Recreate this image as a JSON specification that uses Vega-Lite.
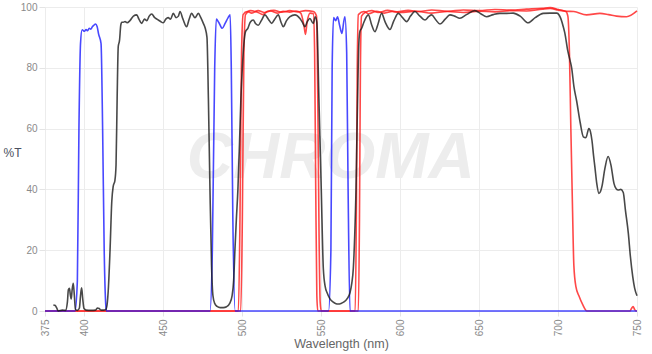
{
"$schema": "https://vega.github.io/schema/vega-lite/v6.json",
"width": 592, "height": 304,
"autosize": "none",
"padding": {"left": 45, "top": 7, "right": 15, "bottom": 43},
"config": {"view": {"stroke": null}, "font": "Liberation Sans",
  "axis": {"labelFont": "Liberation Sans", "titleFont": "Liberation Sans", "labelColor": "#8a8a8a", "labelFontSize": 10, "titleColor": "#666666", "titleFontWeight": "normal", "gridColor": "#ececec", "tickColor": "#e4e4e4", "domain": false}},
"datasets": {
"wm": [{"w": 556, "t": 50, "txt": "CHROMA"}],
"curves": [
{"s":"red1","w":375,"t":0},{"s":"red1","w":497.5,"t":0},{"s":"red1","w":498.5,"t":30},{"s":"red1","w":499.5,"t":85},{"s":"red1","w":500.5,"t":97.5},{"s":"red1","w":503,"t":98.5},{"s":"red1","w":506,"t":98},{"s":"red1","w":510,"t":98.8},{"s":"red1","w":514,"t":98.2},{"s":"red1","w":518,"t":98.7},{"s":"red1","w":522,"t":98},{"s":"red1","w":526,"t":98.6},{"s":"red1","w":530,"t":98.3},{"s":"red1","w":534,"t":98.7},{"s":"red1","w":537,"t":98},{"s":"red1","w":539,"t":94},{"s":"red1","w":540,"t":91},{"s":"red1","w":541,"t":95},{"s":"red1","w":543,"t":98},{"s":"red1","w":545,"t":97.8},{"s":"red1","w":545.8,"t":85},{"s":"red1","w":546.5,"t":40},{"s":"red1","w":547.2,"t":5},{"s":"red1","w":547.8,"t":0},{"s":"red1","w":571.5,"t":0},{"s":"red1","w":572.2,"t":30},{"s":"red1","w":572.8,"t":80},{"s":"red1","w":573.5,"t":97.5},{"s":"red1","w":577,"t":98.5},{"s":"red1","w":580,"t":97.8},{"s":"red1","w":585,"t":98.6},{"s":"red1","w":590,"t":98},{"s":"red1","w":595,"t":98.5},{"s":"red1","w":600,"t":98.2},{"s":"red1","w":610,"t":98.6},{"s":"red1","w":620,"t":98},{"s":"red1","w":630,"t":98.5},{"s":"red1","w":640,"t":98.2},{"s":"red1","w":650,"t":98.6},{"s":"red1","w":660,"t":98.4},{"s":"red1","w":670,"t":98.8},{"s":"red1","w":680,"t":98.7},{"s":"red1","w":690,"t":99.3},{"s":"red1","w":695,"t":99.5},{"s":"red1","w":700,"t":99},{"s":"red1","w":705,"t":98.6},{"s":"red1","w":710,"t":98.5},{"s":"red1","w":718,"t":97.4},{"s":"red1","w":726.5,"t":97.9},{"s":"red1","w":732,"t":97.5},{"s":"red1","w":737,"t":97},{"s":"red1","w":743.4,"t":96.8},{"s":"red1","w":750,"t":98.7},
{"s":"red2","w":375,"t":0},{"s":"red2","w":499,"t":0},{"s":"red2","w":500,"t":30},{"s":"red2","w":501,"t":85},{"s":"red2","w":502,"t":97.5},{"s":"red2","w":505,"t":98.8},{"s":"red2","w":510,"t":98.2},{"s":"red2","w":513,"t":97.5},{"s":"red2","w":516,"t":98.6},{"s":"red2","w":520,"t":98.9},{"s":"red2","w":525,"t":98.3},{"s":"red2","w":530,"t":98.8},{"s":"red2","w":535,"t":98.4},{"s":"red2","w":540,"t":98.8},{"s":"red2","w":545,"t":98.5},{"s":"red2","w":547,"t":97},{"s":"red2","w":547.8,"t":70},{"s":"red2","w":548.6,"t":25},{"s":"red2","w":549.3,"t":3},{"s":"red2","w":550,"t":0},{"s":"red2","w":573.5,"t":0},{"s":"red2","w":574.2,"t":30},{"s":"red2","w":574.8,"t":80},{"s":"red2","w":575.5,"t":97},{"s":"red2","w":578,"t":98.3},{"s":"red2","w":582,"t":98.8},{"s":"red2","w":586,"t":98.2},{"s":"red2","w":592,"t":98.9},{"s":"red2","w":598,"t":98.4},{"s":"red2","w":605,"t":98.9},{"s":"red2","w":612,"t":98.5},{"s":"red2","w":620,"t":99},{"s":"red2","w":630,"t":98.6},{"s":"red2","w":640,"t":99},{"s":"red2","w":650,"t":98.8},{"s":"red2","w":660,"t":99.2},{"s":"red2","w":670,"t":99},{"s":"red2","w":680,"t":99.3},{"s":"red2","w":690,"t":99.6},{"s":"red2","w":695,"t":99.8},{"s":"red2","w":700,"t":99.2},{"s":"red2","w":705,"t":98.5},{"s":"red2","w":706.2,"t":97},{"s":"red2","w":707.2,"t":85},{"s":"red2","w":708.1,"t":60},{"s":"red2","w":709.1,"t":35},{"s":"red2","w":710,"t":15},{"s":"red2","w":711.3,"t":8},{"s":"red2","w":713.2,"t":5},{"s":"red2","w":715.7,"t":2},{"s":"red2","w":718.3,"t":0},{"s":"red2","w":745.5,"t":0},{"s":"red2","w":746.5,"t":0.8},{"s":"red2","w":747.5,"t":1.5},{"s":"red2","w":748.5,"t":0.5},{"s":"red2","w":749.3,"t":0},{"s":"red2","w":750,"t":0},
{"s":"blue","w":375,"t":0},{"s":"blue","w":394,"t":0},{"s":"blue","w":395.5,"t":10},{"s":"blue","w":396.5,"t":60},{"s":"blue","w":397.5,"t":88},{"s":"blue","w":398.5,"t":92.5},{"s":"blue","w":400,"t":92},{"s":"blue","w":401,"t":92.6},{"s":"blue","w":402,"t":92.2},{"s":"blue","w":403,"t":93},{"s":"blue","w":404,"t":92.7},{"s":"blue","w":405,"t":93.5},{"s":"blue","w":406,"t":94},{"s":"blue","w":407,"t":94.4},{"s":"blue","w":408,"t":93.6},{"s":"blue","w":409,"t":91},{"s":"blue","w":410.5,"t":88},{"s":"blue","w":411.5,"t":60},{"s":"blue","w":412.5,"t":20},{"s":"blue","w":413.5,"t":2},{"s":"blue","w":414,"t":0},{"s":"blue","w":479.5,"t":0},{"s":"blue","w":481,"t":20},{"s":"blue","w":482.5,"t":80},{"s":"blue","w":483.5,"t":96},{"s":"blue","w":485,"t":95},{"s":"blue","w":487.3,"t":93},{"s":"blue","w":489,"t":94.5},{"s":"blue","w":491,"t":96.5},{"s":"blue","w":492.3,"t":97.4},{"s":"blue","w":493,"t":80},{"s":"blue","w":494,"t":30},{"s":"blue","w":495.5,"t":0},{"s":"blue","w":554.6,"t":0},{"s":"blue","w":556.1,"t":20},{"s":"blue","w":556.9,"t":80},{"s":"blue","w":557.8,"t":96.5},{"s":"blue","w":559.1,"t":95.5},{"s":"blue","w":560.3,"t":96.8},{"s":"blue","w":561.6,"t":94},{"s":"blue","w":563.1,"t":91.3},{"s":"blue","w":564.2,"t":95},{"s":"blue","w":565,"t":96.8},{"s":"blue","w":566.1,"t":85},{"s":"blue","w":567,"t":40},{"s":"blue","w":568.2,"t":0},{"s":"blue","w":750,"t":0},
{"s":"black","w":380.3,"t":2},{"s":"black","w":381.5,"t":1.8},{"s":"black","w":382.4,"t":1},{"s":"black","w":383.4,"t":0},{"s":"black","w":386,"t":0.3},{"s":"black","w":388,"t":0.2},{"s":"black","w":389.2,"t":3},{"s":"black","w":389.8,"t":7},{"s":"black","w":390.5,"t":7.5},{"s":"black","w":391,"t":5.5},{"s":"black","w":391.6,"t":4},{"s":"black","w":392.2,"t":7},{"s":"black","w":392.9,"t":9.1},{"s":"black","w":393.6,"t":5},{"s":"black","w":394.3,"t":0.5},{"s":"black","w":395.5,"t":0.2},{"s":"black","w":396.8,"t":1},{"s":"black","w":397.5,"t":5},{"s":"black","w":398.2,"t":7.6},{"s":"black","w":398.9,"t":4},{"s":"black","w":399.7,"t":0.8},{"s":"black","w":401,"t":0.3},{"s":"black","w":404,"t":0.2},{"s":"black","w":407,"t":0.3},{"s":"black","w":408.3,"t":1},{"s":"black","w":409.3,"t":0.8},{"s":"black","w":410.5,"t":0.3},{"s":"black","w":412,"t":0.3},{"s":"black","w":413.5,"t":0.5},{"s":"black","w":414.3,"t":2},{"s":"black","w":415.2,"t":8},{"s":"black","w":416.2,"t":20},{"s":"black","w":417.3,"t":36},{"s":"black","w":418.2,"t":41},{"s":"black","w":419.3,"t":43},{"s":"black","w":420,"t":48},{"s":"black","w":420.7,"t":70},{"s":"black","w":421.4,"t":87},{"s":"black","w":422.2,"t":89},{"s":"black","w":423,"t":94},{"s":"black","w":423.6,"t":95},{"s":"black","w":424.6,"t":95},{"s":"black","w":425.7,"t":95.2},{"s":"black","w":427,"t":94.8},{"s":"black","w":428.8,"t":95.5},{"s":"black","w":431,"t":97},{"s":"black","w":433.1,"t":97.4},{"s":"black","w":434.5,"t":96},{"s":"black","w":436.2,"t":94.6},{"s":"black","w":438,"t":96},{"s":"black","w":439.5,"t":95.5},{"s":"black","w":441,"t":97},{"s":"black","w":442.6,"t":97.7},{"s":"black","w":444.5,"t":96.5},{"s":"black","w":445.9,"t":96},{"s":"black","w":448,"t":95.3},{"s":"black","w":449.9,"t":94.8},{"s":"black","w":451.5,"t":96},{"s":"black","w":453,"t":96.5},{"s":"black","w":454.5,"t":96},{"s":"black","w":456.3,"t":97.9},{"s":"black","w":458,"t":96.5},{"s":"black","w":459.5,"t":97},{"s":"black","w":460.5,"t":98.5},{"s":"black","w":462.4,"t":96},{"s":"black","w":464.7,"t":93.5},{"s":"black","w":466.3,"t":96},{"s":"black","w":467.9,"t":97.9},{"s":"black","w":470,"t":96.5},{"s":"black","w":472.1,"t":97.9},{"s":"black","w":473.7,"t":96.5},{"s":"black","w":475.3,"t":94.6},{"s":"black","w":476.5,"t":93},{"s":"black","w":477.6,"t":90},{"s":"black","w":478.5,"t":70},{"s":"black","w":479.5,"t":40},{"s":"black","w":480.5,"t":15},{"s":"black","w":481.4,"t":5},{"s":"black","w":482.5,"t":2.5},{"s":"black","w":484,"t":1.5},{"s":"black","w":486,"t":1.1},{"s":"black","w":488,"t":1.1},{"s":"black","w":490,"t":1.4},{"s":"black","w":492,"t":2.5},{"s":"black","w":493.5,"t":5},{"s":"black","w":494.5,"t":10},{"s":"black","w":495.3,"t":20},{"s":"black","w":496.2,"t":30},{"s":"black","w":497.2,"t":40},{"s":"black","w":498.2,"t":55},{"s":"black","w":499.1,"t":70},{"s":"black","w":500,"t":80},{"s":"black","w":501,"t":88},{"s":"black","w":502,"t":91.9},{"s":"black","w":503.5,"t":93},{"s":"black","w":505,"t":95},{"s":"black","w":506.9,"t":95.7},{"s":"black","w":508.5,"t":94.5},{"s":"black","w":510.1,"t":94},{"s":"black","w":512,"t":95.5},{"s":"black","w":514.3,"t":97.4},{"s":"black","w":516.5,"t":96},{"s":"black","w":518.6,"t":94.6},{"s":"black","w":520.5,"t":96},{"s":"black","w":522.8,"t":97.4},{"s":"black","w":524.5,"t":95},{"s":"black","w":525.9,"t":93.5},{"s":"black","w":528,"t":95.5},{"s":"black","w":530.2,"t":96.8},{"s":"black","w":533.3,"t":97.4},{"s":"black","w":536.5,"t":96.2},{"s":"black","w":538,"t":95},{"s":"black","w":539.7,"t":93.5},{"s":"black","w":541,"t":95},{"s":"black","w":542.8,"t":96.2},{"s":"black","w":544.9,"t":94.6},{"s":"black","w":546.2,"t":96.8},{"s":"black","w":547.2,"t":95},{"s":"black","w":548.5,"t":70},{"s":"black","w":550,"t":40},{"s":"black","w":551.3,"t":14},{"s":"black","w":552.5,"t":8},{"s":"black","w":553.7,"t":6},{"s":"black","w":555.5,"t":4},{"s":"black","w":557.4,"t":3},{"s":"black","w":559,"t":2.5},{"s":"black","w":560.8,"t":2.3},{"s":"black","w":562.5,"t":2.5},{"s":"black","w":564.4,"t":3},{"s":"black","w":566.3,"t":4},{"s":"black","w":568.2,"t":6},{"s":"black","w":569.3,"t":9},{"s":"black","w":570.3,"t":14},{"s":"black","w":571.2,"t":25},{"s":"black","w":572,"t":40},{"s":"black","w":572.6,"t":58},{"s":"black","w":573.2,"t":75},{"s":"black","w":573.8,"t":88},{"s":"black","w":574.5,"t":92},{"s":"black","w":575.6,"t":93},{"s":"black","w":577,"t":95},{"s":"black","w":579.8,"t":97.4},{"s":"black","w":582,"t":94},{"s":"black","w":584,"t":91.9},{"s":"black","w":586,"t":94.5},{"s":"black","w":588.2,"t":97.9},{"s":"black","w":590.5,"t":95},{"s":"black","w":593.5,"t":92.6},{"s":"black","w":596,"t":95.5},{"s":"black","w":598.8,"t":97.9},{"s":"black","w":601.5,"t":96.5},{"s":"black","w":604.1,"t":95.2},{"s":"black","w":606.5,"t":97},{"s":"black","w":609.3,"t":98.5},{"s":"black","w":612.5,"t":97},{"s":"black","w":615.7,"t":95.7},{"s":"black","w":618,"t":96.8},{"s":"black","w":619.9,"t":97.4},{"s":"black","w":622.5,"t":95.8},{"s":"black","w":625.2,"t":94.4},{"s":"black","w":628.5,"t":96},{"s":"black","w":631.5,"t":97.4},{"s":"black","w":634.5,"t":97},{"s":"black","w":637.8,"t":96.3},{"s":"black","w":642,"t":97.5},{"s":"black","w":647.3,"t":98.8},{"s":"black","w":651,"t":97.8},{"s":"black","w":654.7,"t":96.8},{"s":"black","w":659,"t":97.5},{"s":"black","w":663.2,"t":97.9},{"s":"black","w":667.5,"t":97.9},{"s":"black","w":671.6,"t":98},{"s":"black","w":676,"t":97},{"s":"black","w":681.1,"t":94.8},{"s":"black","w":685.5,"t":96.5},{"s":"black","w":690.6,"t":97.9},{"s":"black","w":695,"t":98},{"s":"black","w":699.1,"t":98},{"s":"black","w":701.5,"t":96.5},{"s":"black","w":703.3,"t":93.5},{"s":"black","w":704.3,"t":91.4},{"s":"black","w":706,"t":86},{"s":"black","w":707.5,"t":82.6},{"s":"black","w":708.6,"t":80},{"s":"black","w":710,"t":74},{"s":"black","w":711.8,"t":69},{"s":"black","w":714,"t":62},{"s":"black","w":716,"t":57.3},{"s":"black","w":717.6,"t":57},{"s":"black","w":719.5,"t":60},{"s":"black","w":720.5,"t":59},{"s":"black","w":721.5,"t":56},{"s":"black","w":722.5,"t":51},{"s":"black","w":723.3,"t":47.5},{"s":"black","w":724.5,"t":42},{"s":"black","w":725.9,"t":38.7},{"s":"black","w":727,"t":39.5},{"s":"black","w":727.8,"t":41},{"s":"black","w":729.7,"t":47},{"s":"black","w":731.7,"t":50.8},{"s":"black","w":733.5,"t":48},{"s":"black","w":735.4,"t":42},{"s":"black","w":736.8,"t":40.2},{"s":"black","w":738.1,"t":39.8},{"s":"black","w":739.8,"t":40},{"s":"black","w":741.3,"t":39},{"s":"black","w":742.7,"t":33},{"s":"black","w":744.5,"t":25.6},{"s":"black","w":745.8,"t":18},{"s":"black","w":747.3,"t":11.3},{"s":"black","w":748.5,"t":7.5},{"s":"black","w":750,"t":5}
]},
"layer": [
 {"data": {"name": "wm"},
  "mark": {"type": "text", "fontSize": 64, "fontWeight": "bold", "fontStyle": "italic", "color": "#ededed", "font": "Liberation Sans"},
  "encoding": {
   "x": {"field": "w", "type": "quantitative", "scale": {"domain": [375, 750], "nice": false}},
   "y": {"field": "t", "type": "quantitative", "scale": {"domain": [0, 100], "nice": false}},
   "text": {"field": "txt"}}},
 {"data": {"name": "curves"},
  "mark": {"type": "line", "strokeWidth": 1.6, "interpolate": "monotone"},
  "encoding": {
   "x": {"field": "w", "type": "quantitative", "scale": {"domain": [375, 750], "nice": false},
    "axis": {"title": "Wavelength (nm)", "values": [375,400,450,500,550,600,650,700,750], "labelAngle": -90, "labelAlign": "right", "labelBaseline": "middle", "tickSize": 5, "labelPadding": 3, "titleFontSize": 12.5, "titlePadding": 2}},
   "y": {"field": "t", "type": "quantitative", "scale": {"domain": [0, 100], "nice": false},
    "axis": {"title": "%T", "values": [0,10,20,30,40,50,60,70,80,90,100], "tickSize": 6, "labelPadding": 2, "titleAngle": 0, "titleAlign": "left", "titleBaseline": "middle", "titleX": -42, "titleY": 145, "titleFontSize": 12, "titleColor": "#4a5060"}},
   "color": {"field": "s", "type": "nominal", "legend": null, "scale": {"domain": ["red1","red2","blue","black"], "range": ["#ff1a1a","#ff1a1a","#1a1aff","#1a1a1a"]}},
   "opacity": {"field": "s", "type": "nominal", "legend": null, "scale": {"domain": ["red1","red2","blue","black"], "range": [0.8,0.8,0.68,0.95]}}}}
]
}
